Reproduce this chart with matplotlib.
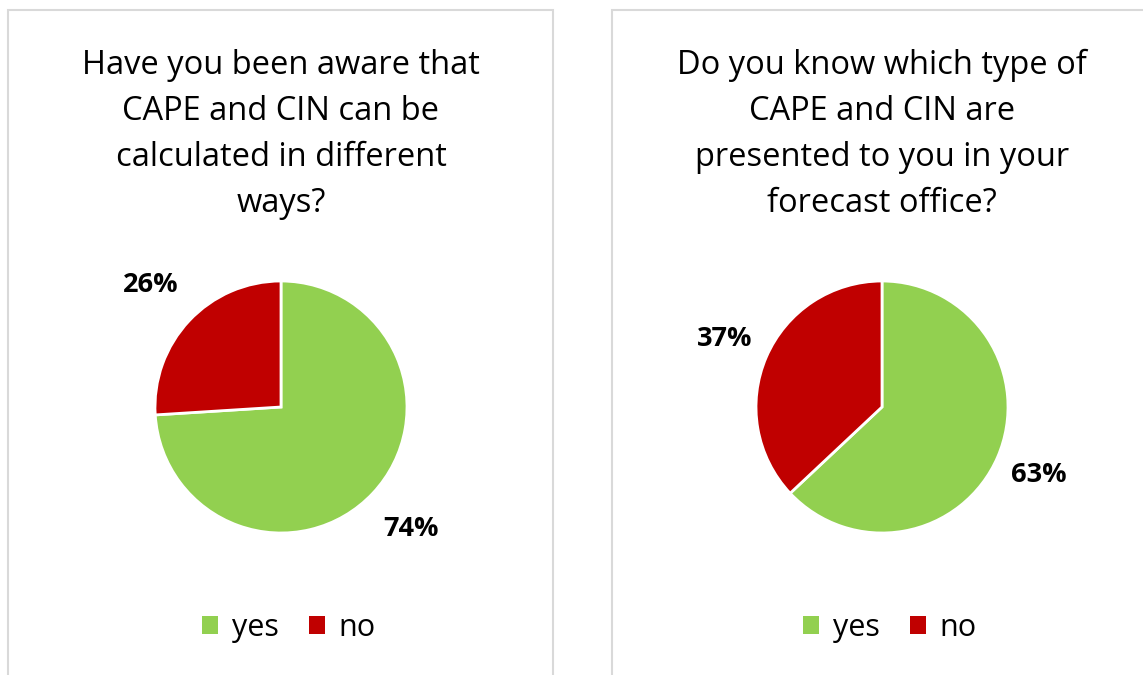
import matplotlib
matplotlib.use("Agg")
import matplotlib.pyplot as plt
from matplotlib.patches import Rectangle, Patch

plt.rcParams['font.family'] = ['Open Sans', 'DejaVu Sans']

# Survey results (percent of respondents)
categories = ["yes", "no"]
colors = ["#92D050", "#C00000"]
questions = [
    "Have you been aware that\nCAPE and CIN can be\ncalculated in different\nways?",
    "Do you know which type of\nCAPE and CIN are\npresented to you in your\nforecast office?",
]
answers_q1 = [74, 26]
answers_q2 = [63, 37]
all_answers = [answers_q1, answers_q2]

W, H = 1143, 675
fig = plt.figure(figsize=(W / 100, H / 100), dpi=100)
fig.patch.set_facecolor("white")


def fx(px):
    return px / W


def fy(py):
    return 1 - py / H


# Panel frames (px): left, top, right
panels = [(8, 10, 553), (612, 10, 1152)]
for (x0, y0, x1) in panels:
    fig.patches.append(Rectangle((fx(x0), fy(H + 20)), fx(x1) - fx(x0), fy(y0) - fy(H + 20),
                                 transform=fig.transFigure, fill=False,
                                 edgecolor="#D9D9D9", linewidth=1.5, zorder=0))

centers = [281, 882]
label_dist = [1.42, 1.36]
radius = 126
cy = 407

for cx, q, vals, ld in zip(centers, questions, all_answers, label_dist):
    fig.text(fx(cx), fy(49), q, ha="center", va="top", fontsize=23.5,
             linespacing=1.52, color="#000000")

    ax = fig.add_axes([fx(cx - radius), fy(cy + radius), fx(2 * radius), fy(cy - radius) - fy(cy + radius)])
    wedges, texts, autotexts = ax.pie(
        vals, colors=colors, startangle=90, counterclock=False,
        autopct=lambda p: f"{p:.0f}%", pctdistance=ld,
        wedgeprops=dict(edgecolor="white", linewidth=2),
        textprops=dict(fontsize=19.5, fontweight="bold", color="#000000"),
    )
    ax.set_xlim(-1, 1)
    ax.set_ylim(-1, 1)
    ax.set_aspect("equal")

    handles = [Patch(facecolor=c, edgecolor="none") for c in colors]
    fig.legend(handles, categories, loc="center", ncol=2, frameon=False,
               bbox_to_anchor=(fx(cx + 8), fy(628)), fontsize=22,
               handlelength=0.52, handleheight=0.52, handletextpad=0.45,
               columnspacing=1.0)

fig.savefig("out.png", dpi=100, facecolor="white")
